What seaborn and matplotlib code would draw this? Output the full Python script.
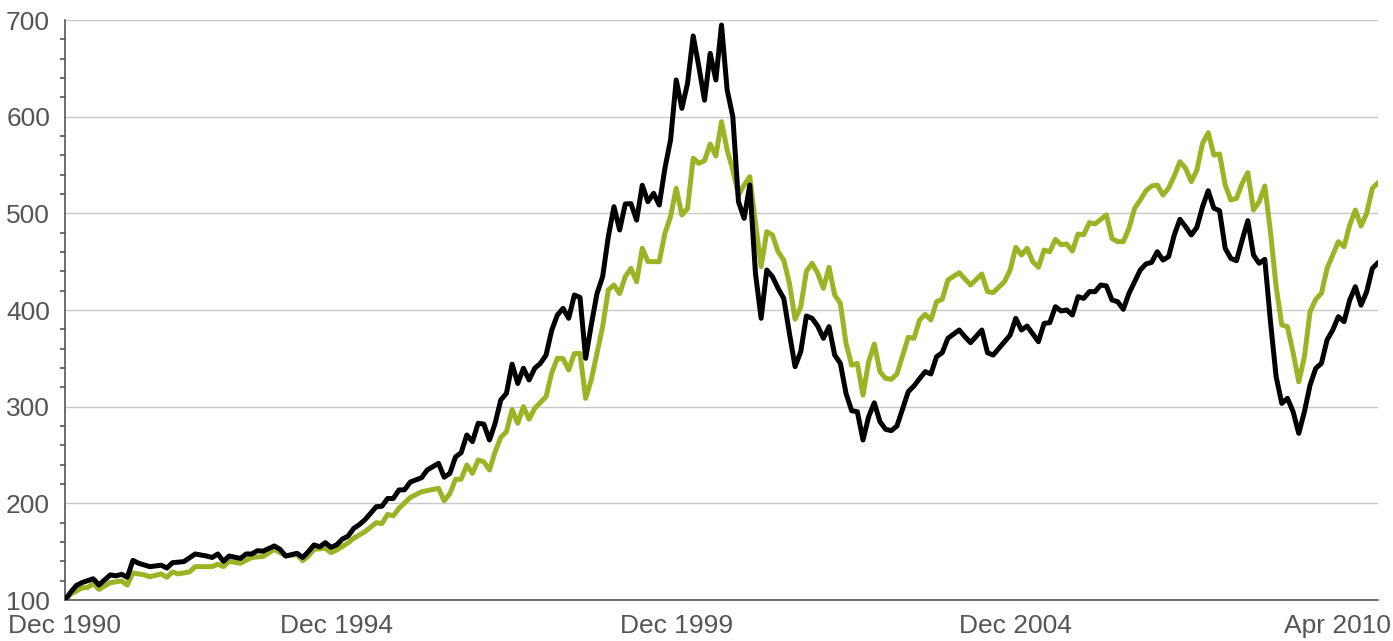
import matplotlib
matplotlib.use("Agg")
import matplotlib.pyplot as plt
import matplotlib.transforms as mtransforms
from matplotlib.ticker import FixedLocator, MultipleLocator
import seaborn as sns

# months since Dec 1990, and index values
black_months = [0, 1, 2, 3, 5, 6, 8, 9, 10, 11, 12, 13, 15, 17, 18, 19, 21, 23, 25, 26,
                27, 28, 29, 31, 32, 33, 34, 35, 37, 38, 39, 41, 42, 43, 44, 45, 46, 47, 48, 49,
                50, 51, 52, 53, 55, 56, 57, 58, 59, 60, 61, 63, 64, 66, 67, 68, 69, 70, 71, 72,
                73, 74, 75, 76, 77, 78, 79, 80, 81, 82, 83, 84, 85, 86, 87, 88, 89, 90, 91, 92,
                93, 94, 95, 96, 97, 98, 99, 100, 101, 102, 103, 104, 105, 106, 107, 108, 109, 110, 111, 112,
                113, 114, 115, 116, 117, 118, 119, 120, 121, 122, 123, 124, 125, 126, 127, 128, 129, 130, 131, 132,
                133, 134, 135, 136, 137, 138, 139, 140, 141, 142, 143, 144, 145, 146, 147, 149, 150, 151, 152, 153,
                154, 155, 156, 158, 159, 160, 162, 163, 164, 165, 167, 168, 169, 170, 172, 173, 174, 175, 176, 177,
                178, 179, 180, 181, 182, 183, 184, 185, 186, 187, 188, 189, 190, 191, 192, 193, 194, 195, 196, 197,
                198, 199, 200, 201, 202, 203, 204, 205, 206, 207, 208, 209, 210, 211, 212, 213, 214, 215, 216, 217,
                218, 219, 220, 221, 222, 223, 224, 225, 226, 227, 228, 229, 230, 231, 232]
black_values = [100, 108, 115, 118, 122, 115.5, 126, 125, 126.6, 123.5, 141, 138, 134.5, 136, 133, 138.6, 139.7, 147.6, 145.5, 144,
                147.6, 140, 145.5, 143, 147.6, 147.6, 151, 150.5, 155.9, 152.4, 145.5, 148.3, 144, 150, 157, 155, 159.3, 154.5, 157, 163,
                166, 174, 178, 183, 196.5, 197, 205, 205, 213.8, 214, 222, 226.5, 234.5, 241.4, 227, 231, 248, 252.4, 270.7, 263.8,
                282.8, 282, 265.5, 282.8, 306.9, 313.8, 344, 324, 339.7, 327.6, 339.7, 344.8, 353.4, 379, 394.8, 401.7, 391.4, 415.5, 413, 350,
                385, 417, 434.5, 475.9, 506.9, 482.8, 509.7, 510, 493, 529, 512, 520.7, 508.6, 546.6, 575.9, 638, 608.6, 634.5, 683.5, 651.7,
                617, 665.5, 638, 694.8, 627.6, 600, 512, 494.8, 529.3, 438, 391.4, 441.4, 434.5, 422.4, 412, 375.9, 341.4, 356.9, 393.8, 391.4,
                383.4, 370.7, 382.8, 353.4, 344.8, 313.8, 295.8, 294.8, 265.5, 289.6, 304, 284.5, 276.6, 275.2, 280, 315.5, 321.4, 329, 336.2, 333.8,
                351.7, 355.8, 370.7, 379.3, 372.4, 366.2, 379.3, 355.8, 353.4, 360.3, 374, 391.4, 379.3, 383.4, 367.2, 386.2, 386.9, 403.4, 399, 400,
                394.8, 413.8, 412, 419, 419, 425.9, 425, 410.3, 408.6, 400.7, 417.2, 429.3, 441.4, 447.6, 449.3, 460.3, 451.7, 455.2, 477.6, 493.8,
                486.2, 477.6, 485.5, 506.9, 523.4, 505.2, 502.8, 463.8, 453.4, 451, 472.4, 492.4, 456.9, 448.3, 452.4, 387.9, 331, 303.4, 308.6, 294.8,
                272.4, 294.8, 322.4, 339.7, 344.8, 369, 379.3, 393.1, 387.9, 410.3, 424.1, 405, 419, 443, 449]

green_months = [0, 1, 3, 4, 5, 6, 8, 10, 11, 12, 14, 15, 17, 18, 19, 20, 22, 23, 26, 27,
                28, 29, 31, 33, 35, 37, 39, 41, 42, 43, 44, 46, 47, 48, 50, 51, 53, 55, 56, 57,
                58, 59, 61, 63, 66, 67, 68, 69, 70, 71, 72, 73, 74, 75, 76, 77, 78, 79, 80, 81,
                82, 83, 85, 86, 87, 88, 89, 90, 91, 92, 93, 95, 96, 97, 98, 99, 100, 101, 102, 103,
                105, 106, 107, 108, 109, 110, 111, 112, 113, 114, 115, 116, 117, 118, 119, 120, 121, 122, 123, 124,
                125, 126, 127, 128, 129, 130, 131, 132, 133, 134, 135, 136, 137, 138, 139, 140, 141, 142, 143, 144,
                145, 146, 147, 149, 150, 151, 152, 153, 154, 155, 156, 158, 160, 162, 163, 164, 166, 167, 168, 169,
                170, 171, 172, 173, 174, 175, 176, 177, 178, 179, 180, 181, 182, 183, 184, 185, 186, 187, 188, 189,
                190, 191, 192, 193, 194, 195, 196, 197, 198, 199, 200, 201, 202, 203, 204, 205, 206, 207, 208, 209,
                210, 211, 212, 213, 214, 215, 216, 217, 218, 219, 220, 221, 222, 223, 225, 226, 227, 228, 229, 230,
                231, 232]
green_values = [100, 106, 112.5, 113, 117, 111, 118, 119.7, 115.5, 128, 126, 124, 127, 123.5, 129, 127, 129, 134.5, 134.5, 137,
                134.5, 140, 138, 144, 145, 152.4, 145.5, 147, 140.7, 145.5, 152.4, 153.5, 149, 151.7, 159, 163.8, 170.7, 180, 179, 188.6,
                187, 194.8, 206, 212, 215.5, 202.7, 210, 224.8, 225, 239.7, 231, 244.8, 243, 234.5, 253.4, 268.3, 274, 297, 282.8, 300,
                287, 298.3, 310.3, 335, 350, 349.7, 338, 355, 355, 308.6, 328, 382.8, 420.7, 425.9, 417, 434.5, 443, 429.3, 463.8, 450,
                450, 479.3, 496.6, 525.9, 498.3, 505, 557, 551.7, 554.5, 571.7, 559.3, 594.8, 565.5, 544.8, 519, 529.3, 537.9, 489.7, 444.8, 481,
                477.6, 460.3, 451.7, 427.6, 390.5, 403, 440, 448.3, 438, 422.4, 444.1, 415.5, 407, 365.5, 343, 344.8, 312, 346.6, 364.8, 336.2,
                329.3, 328.3, 333.8, 371.7, 370.7, 389.7, 395.5, 389.7, 408.6, 411, 431, 438.6, 425.9, 437.2, 419, 418, 429.3, 441.4, 464.8, 456.9,
                463.8, 450, 444.1, 462, 460.3, 473.1, 467.5, 468.3, 461, 478.5, 478, 490.3, 489, 493.8, 498.3, 474, 470.7, 470.7, 484.5, 505.2,
                513.8, 523.4, 528.3, 529.3, 519, 526, 538.6, 553.4, 546.6, 532.8, 544.8, 572.4, 583.4, 560.3, 561.4, 529.3, 513.8, 515.5, 531, 542.1,
                503.4, 512, 528.3, 481, 424.1, 384.5, 382.8, 355.8, 325.8, 351.7, 398.3, 411, 417.2, 443, 470.7, 465.5, 487.9, 503.4, 486.9, 500,
                525.9, 531.7]

tick_months = [0, 48, 108, 168, 228]
tick_labels = ["Dec 1990", "Dec 1994", "Dec 1999", "Dec 2004", "Apr 2010"]

sns.set_style("white")
plt.rcParams['font.family'] = ['Liberation Sans', 'DejaVu Sans']

fig = plt.figure(figsize=(13.93, 6.41), dpi=100)
ax = fig.add_axes([65 / 1393, 1 - 600 / 641, 1313 / 1393, 580 / 641])

sns.lineplot(x=green_months, y=green_values, ax=ax, color="#9bb425", lw=3.6, zorder=3)
sns.lineplot(x=black_months, y=black_values, ax=ax, color="black", lw=3.6, zorder=4)

ax.set_xlim(0, 232)
ax.set_ylim(100, 700)
ax.yaxis.set_major_locator(MultipleLocator(100))
ax.yaxis.set_minor_locator(MultipleLocator(20))
ax.xaxis.set_major_locator(FixedLocator(tick_months))
ax.set_xticklabels(tick_labels)
ax.grid(axis="y", color="#c8c8c8", lw=1, zorder=0)
ax.set_axisbelow(True)

for side in ["top", "right"]:
    ax.spines[side].set_visible(False)
for side in ["left", "bottom"]:
    ax.spines[side].set_color("#555555")
    ax.spines[side].set_linewidth(1.2)

ax.tick_params(axis="both", which="major", direction="out", length=7.2, width=1.2,
               color="#555555", labelcolor="#555555", labelsize=19)
ax.tick_params(axis="y", which="minor", direction="out", length=3.6, width=1.2, color="#555555", left=True)
ax.tick_params(axis="y", which="major", pad=3.6)
ax.tick_params(axis="x", which="major", pad=3)

# last label is nudged left so it stays inside the canvas
last = ax.get_xticklabels()[-1]
last.set_transform(last.get_transform() + mtransforms.ScaledTranslation(-18 / 100, 0, fig.dpi_scale_trans))

ax.set_xlabel("")
ax.set_ylabel("")

fig.savefig("out.png", dpi=100)
